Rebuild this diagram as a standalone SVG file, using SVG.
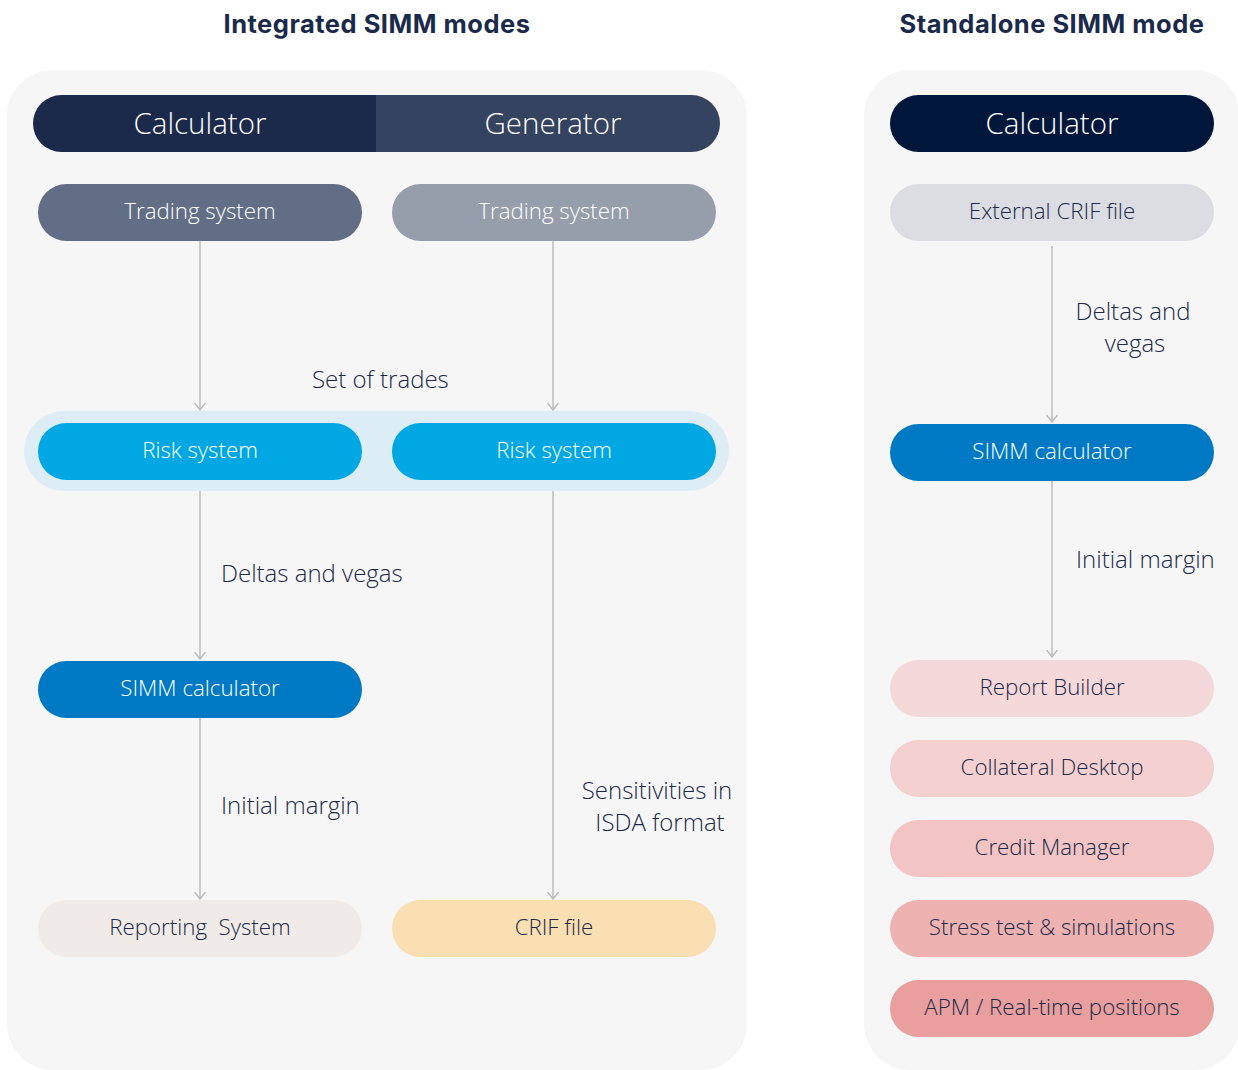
<svg xmlns="http://www.w3.org/2000/svg" width="1238" height="1070" viewBox="0 0 1238 1070">
  <defs>
    <style>
      .title { font-family: "Inter", "Noto Sans", sans-serif; font-weight: 700; font-size: 25.5px; letter-spacing: 0.5px; fill: #1b2a4a; text-anchor: middle; }
      .head { font-family: "Open Sans", "Noto Sans", sans-serif; font-weight: 300; font-size: 29.5px; fill: #ffffff; text-anchor: middle; dominant-baseline: central; }
      .node { font-family: "Open Sans", "Noto Sans", sans-serif; font-weight: 300; font-size: 22.3px; text-anchor: middle; dominant-baseline: central; }
      .light { fill: #ffffff; }
      .dark { fill: #1b2a4a; }
      .label { font-family: "Open Sans", "Noto Sans", sans-serif; font-weight: 300; font-size: 24px; fill: #1b2a4a; }
      .edge { stroke: #bcbcbc; stroke-width: 1.5; fill: none; marker-end: url(#chev); }
    </style>
    <!-- open chevron arrowhead, drawn pointing along +x -->
    <marker id="chev" viewBox="0 0 8 12" refX="7.5" refY="6" markerWidth="8" markerHeight="12" markerUnits="userSpaceOnUse" orient="auto">
      <path d="M0.5,0.5 L7.5,6 L0.5,11.5" fill="none" stroke="#bcbcbc" stroke-width="1.5"/>
    </marker>
  </defs>

  <rect width="1238" height="1070" fill="#ffffff"/>

  <!-- panel titles -->
  <text class="title" x="377" y="33">Integrated SIMM modes</text>
  <text class="title" x="1052" y="33">Standalone SIMM mode</text>

  <!-- panels -->
  <rect id="panel-integrated" x="7" y="70" width="740" height="1000" rx="46" fill="#f6f6f6"/>
  <rect id="panel-standalone" x="864" y="70" width="376" height="1000" rx="46" fill="#f6f6f6"/>

  <!-- risk system band -->
  <rect id="risk-band" x="24" y="411" width="705" height="80" rx="40" fill="#ddedf5"/>

  <!-- header: calculator / generator -->
  <g id="header-integrated">
    <path d="M376,95 H61.5 A28.5,28.5 0 0 0 61.5,152 H376 Z" fill="#1b2a4a"/>
    <path d="M376,95 H691.5 A28.5,28.5 0 0 1 691.5,152 H376 Z" fill="#344360"/>
    <text class="head" x="200" y="122.5">Calculator</text>
    <text class="head" x="553" y="122.5">Generator</text>
  </g>

  <g id="header-standalone">
    <rect x="890" y="95" width="324" height="57" rx="28.5" fill="#00163a"/>
    <text class="head" x="1052" y="122.5">Calculator</text>
  </g>

  <!-- integrated: calculator column -->
  <g id="trading-calc">
    <rect x="38" y="184" width="324" height="57" rx="28.5" fill="#626e86"/>
    <text class="node light" x="200" y="210.5">Trading system</text>
  </g>
  <g id="risk-calc">
    <rect x="38" y="423" width="324" height="57" rx="28.5" fill="#00a7e3"/>
    <text class="node light" x="200" y="449.5">Risk system</text>
  </g>
  <g id="simm-calc">
    <rect x="38" y="661" width="324" height="57" rx="28.5" fill="#0079c5"/>
    <text class="node light" x="200" y="687.5">SIMM calculator</text>
  </g>
  <g id="reporting">
    <rect x="38" y="900" width="324" height="57" rx="28.5" fill="#f0ebe6"/>
    <text class="node dark" x="200" y="926.5" xml:space="preserve">Reporting  System</text>
  </g>

  <!-- integrated: generator column -->
  <g id="trading-gen">
    <rect x="392" y="184" width="324" height="57" rx="28.5" fill="#979eab"/>
    <text class="node light" x="554" y="210.5">Trading system</text>
  </g>
  <g id="risk-gen">
    <rect x="392" y="423" width="324" height="57" rx="28.5" fill="#00a7e3"/>
    <text class="node light" x="554" y="449.5">Risk system</text>
  </g>
  <g id="crif">
    <rect x="392" y="900" width="324" height="57" rx="28.5" fill="#fadfb3"/>
    <text class="node dark" x="554" y="926.5">CRIF file</text>
  </g>

  <!-- standalone column -->
  <g id="external-crif">
    <rect x="890" y="184" width="324" height="57" rx="28.5" fill="#dcdde2"/>
    <text class="node dark" x="1052" y="210.5">External CRIF file</text>
  </g>
  <g id="simm-standalone">
    <rect x="890" y="424" width="324" height="57" rx="28.5" fill="#0079c5"/>
    <text class="node light" x="1052" y="450.5">SIMM calculator</text>
  </g>
  <g id="report-builder">
    <rect x="890" y="660" width="324" height="57" rx="28.5" fill="#f5d8d9"/>
    <text class="node dark" x="1052" y="686.5">Report Builder</text>
  </g>
  <g id="collateral-desktop">
    <rect x="890" y="740" width="324" height="57" rx="28.5" fill="#f4d0d0"/>
    <text class="node dark" x="1052" y="766.5">Collateral Desktop</text>
  </g>
  <g id="credit-manager">
    <rect x="890" y="820" width="324" height="57" rx="28.5" fill="#f2c4c4"/>
    <text class="node dark" x="1052" y="846.5">Credit Manager</text>
  </g>
  <g id="stress-test">
    <rect x="890" y="900" width="324" height="57" rx="28.5" fill="#eeb2b1"/>
    <text class="node dark" x="1052" y="926.5">Stress test &amp; simulations</text>
  </g>
  <g id="apm">
    <rect x="890" y="980" width="324" height="57" rx="28.5" fill="#e89f9e"/>
    <text class="node dark" x="1052" y="1006.5">APM / Real-time positions</text>
  </g>

  <!-- connectors -->
  <g id="connectors">
    <line class="edge" x1="200" y1="241" x2="200" y2="410"/>
    <line class="edge" x1="553" y1="241" x2="553" y2="410"/>
    <line class="edge" x1="200" y1="491" x2="200" y2="659"/>
    <line class="edge" x1="200" y1="718" x2="200" y2="899"/>
    <line class="edge" x1="553" y1="491" x2="553" y2="899"/>
    <line class="edge" x1="1052" y1="246" x2="1052" y2="422"/>
    <line class="edge" x1="1052" y1="481" x2="1052" y2="657"/>
  </g>

  <!-- connector labels -->
  <g id="labels">
    <text class="label" x="312" y="388">Set of trades</text>
    <text class="label" x="221" y="582">Deltas and vegas</text>
    <text class="label" x="221" y="814">Initial margin</text>
    <text class="label" x="657" y="799" text-anchor="middle">Sensitivities in</text>
    <text class="label" x="660" y="831" text-anchor="middle">ISDA format</text>
    <text class="label" x="1133" y="320" text-anchor="middle">Deltas and</text>
    <text class="label" x="1135" y="352" text-anchor="middle">vegas</text>
    <text class="label" x="1076" y="568">Initial margin</text>
  </g>
</svg>
